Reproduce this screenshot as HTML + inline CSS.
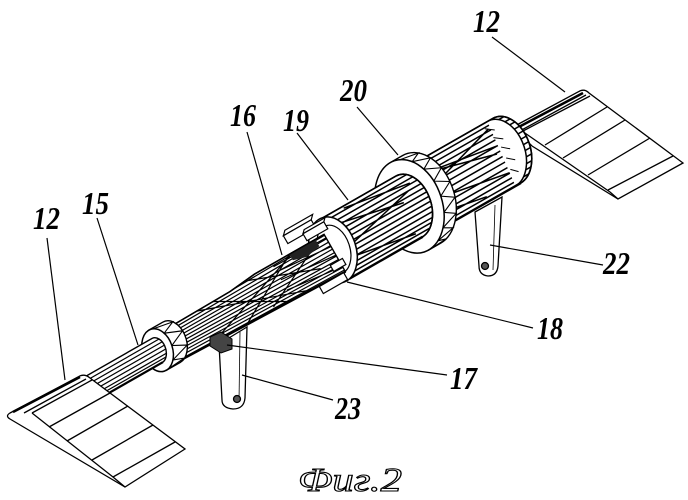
<!DOCTYPE html>
<html><head><meta charset="utf-8"><style>
html,body{margin:0;padding:0;background:#fff;}
svg{display:block;}
.t{font-family:"Liberation Serif",serif;font-style:italic;font-weight:bold;font-size:32px;fill:#000;}
</style></head><body>
<svg width="688" height="500" viewBox="0 0 688 500" xmlns="http://www.w3.org/2000/svg">
<defs>
<clipPath id="cR"><path d="M92,-35 L203.8,-35 A24,35.4 11.74 0 1 196.2,35 L92,35 Z"/></clipPath>
<clipPath id="c19"><path d="M0,-33 L91.6,-33 A22.7,33.4 11.74 0 1 84.4,33 L0,33 Z"/></clipPath>
<clipPath id="cS"><path d="M-190,-14 L-110,-15 L-80,-18 L0,-18 L0,25 L-190,20 Z"/></clipPath>
<clipPath id="cRod"><path d="M-292,-13 L-200.6,-13 A9,13.2 11.74 0 1 -203.4,13 L-292,13 Z"/></clipPath>
</defs>
<rect width="688" height="500" fill="#fff"/>

<!-- right blade -->
<g fill="none" stroke="#000" stroke-width="1.3">
<path d="M513,127 L578,92 Q584,88 589,93 L683,163 L618,199 L532,146 Z" fill="#fff"/>
<path d="M522,131 L610,192 L618,199"/>
<path d="M523,131 L590,96 M545,145 L607,107 M563,158 L625,120 M588,175 L650,138 M608,190 L673,156"/>
<path d="M515,129 L583,93" stroke-width="2.5"/>
<path d="M518,132 L586,95"/>
</g>

<!-- lever 22 -->
<g stroke="#000" stroke-width="1.3">
<path d="M475,212 L502,197 L498,266 Q497,276 488,276 Q479,275 479,266 Z" fill="#fff"/>
<line x1="495" y1="205" x2="493" y2="270" stroke-width="0.8"/>
<circle cx="485" cy="266" r="3.5" fill="#555"/>
</g>

<!-- right cylinder, ring 20, cylinder 19 -->
<g transform="translate(333 250) rotate(-29.74)" stroke="#000" fill="none">
 <path d="M92,-35 L203.8,-35 A24,35.4 11.74 0 1 196.2,35 L92,35 Z" fill="#fff" stroke-width="1.5"/>
 <g clip-path="url(#cR)" stroke-width="1.5">
  <path d="M90,-31H240 M90,-26H240 M90,-21H240 M90,-15H240 M90,-9H240 M90,-3H240 M90,3H240 M90,9H240 M90,15H240 M90,21H240 M90,26H240 M90,31H240 M100,-24L200,-8 M110,6L200,22 M120,-6L195,-28 M95,18L160,30 M130,-18L190,-2"/>
  <path d="M197.8,-35 A24,35.4 11.74 0 1 190.2,35" stroke-width="1.5" fill="#fff"/>
  <path d="M192,-30 L200,-24 M195,-18 L203,-12 M197,-6 L204,0 M196,6 L203,12 M194,18 L200,24" stroke-width="1"/>
 </g>
 <path d="M92,-35 L203.8,-35 A24,35.4 11.74 0 1 196.2,35 L92,35" stroke-width="1.6"/>
 <path d="M92,35 L196.2,35" stroke-width="2.4"/>

 <!-- ring 20 -->
 <path d="M93.1,-47.5 L107.1,-47.5 A33,48 11.74 0 1 96.9,47.5 L82.9,47.5 Z" fill="#fff" stroke-width="1.4"/>
 <polyline points="103.2,-45.1 122.3,-41.9 112.6,-37.4 130.3,-31.7 119,-25.1 134.9,-17.7 121.7,-9.8 135.5,-1.5 120.3,6.7 132.1,14.7 115,22.4 125.1,29.3 106.5,35.3 115.3,40.3 95.7,44.1 103.9,46.5 84,47.5" stroke-width="1.1"/>
 <ellipse cx="88" cy="0" rx="33" ry="48" transform="rotate(11.74 88 0)" fill="#fff" stroke-width="1.5"/>

 <!-- cylinder 19 -->
 <path d="M0,-33 L91.6,-33 A22.7,33.4 11.74 0 1 84.4,33 L0,33 Z" fill="#fff" stroke-width="1.5"/>
 <g clip-path="url(#c19)" stroke-width="1.5">
  <path d="M-5,-29H120 M-5,-24H120 M-5,-19H120 M-5,-14H120 M-5,-9H120 M-5,-4H120 M-5,1H120 M-5,6H120 M-5,11H120 M-5,16H120 M-5,21H120 M-5,25H120 M-5,29H120 M10,-22L85,-6 M20,4L95,-14 M5,14L80,27 M30,-31L100,-20"/>
 </g>
 <path d="M0,-33 L91.6,-33 A22.7,33.4 11.74 0 1 84.4,33 L0,33" stroke-width="1.6"/>
 <path d="M0,33 L84.4,33" stroke-width="2.4"/>
 <ellipse cx="0" cy="0" rx="23" ry="34" transform="rotate(11.74 0 0)" fill="#fff" stroke-width="1.5"/>
 <ellipse cx="1" cy="0" rx="16" ry="25" transform="rotate(11.74 1 0)" fill="#fff" stroke-width="1.2"/>
</g>

<!-- lever 23 -->
<g stroke="#000" stroke-width="1.3">
<path d="M219,344 L247,327 L245,398 Q244,409 233,409 Q222,408 222,400 Z" fill="#fff"/>
<line x1="240" y1="332" x2="239" y2="402" stroke-width="0.8"/>
<circle cx="237" cy="399" r="3.5" fill="#555"/>
</g>

<!-- shaft, keys, collar, rod -->
<g transform="translate(333 250) rotate(-29.74)" stroke="#000" fill="none">
 <path d="M-190,-14 L-110,-15 L-80,-18 L0,-18 L0,25 L-190,20 Z" fill="#fff" stroke-width="1.4"/>
 <g clip-path="url(#cS)" stroke-width="1.2">
  <path d="M-200,-14L0,-17 M-200,-11L0,-13 M-200,-8L0,-9 M-200,-5L0,-5 M-200,-2L0,-1 M-200,1L0,3 M-200,4L0,7 M-200,7L0,11 M-200,10L0,14 M-200,13L0,17 M-200,16L0,20 M-200,19L0,23 M-200,22L0,26 M-150,-15L-35,25 M-150,21L-35,-18 M-130,-15L-60,25 M-110,21L-40,-18 M-60,-15L0,-14 M-60,-9L0,-4 M-60,0L0,6 M-60,12L0,19 M-90,-16L-20,10 M-80,20L-15,-12"/>
  <path d="M-40,-18 L-10,-18 L-10,-10 L-26,-7 L-40,-11 Z" fill="#222" stroke="none"/>
 </g>
 <path d="M-190,-14 L-110,-15 L-80,-18 L0,-18" stroke-width="1.5"/>
 <path d="M0,25 L-190,20" stroke-width="2.4"/>
 <!-- keys -->
 <g fill="#fff" stroke-width="1.2">
  <path d="M-36,-37 L-4,-37 L0,-41 L-32,-41 Z"/>
  <rect x="-36" y="-37" width="32" height="9"/>
  <path d="M-18,-29 L6,-29 L9,-32 L-15,-32 Z"/>
  <rect x="-18" y="-29" width="24" height="8"/>
  <rect x="-30" y="25" width="28" height="8"/>
  <rect x="-10" y="12" width="14" height="7"/>
 </g>
</g>

<!-- block 17 -->
<polygon points="210,337 221,332 232,339 232,349 221,353 210,346" fill="#444" stroke="#000" stroke-width="1"/>

<g transform="translate(333 250) rotate(-29.74)" stroke="#000" fill="none">
 <!-- collar 15 -->
 <path d="M-199.65,-21.8 L-183.65,-21.8 A15,22 11.74 0 1 -188.35,21.8 L-204.35,21.8 Z" fill="#fff" stroke-width="1.4"/>
 <polyline points="-195,-20.7 -174.8,-17.1 -187.9,-11.5 -170.7,-4.5 -187.3,3.05 -173.7,10.2 -193.6,16.1 -182.5,20.1 -203.8,21.7" stroke-width="1.1"/>
 <ellipse cx="-202" cy="0" rx="15" ry="22" transform="rotate(11.74 -202 0)" fill="#fff" stroke-width="1.5"/>
 <!-- rod -->
 <path d="M-292,-13 L-200.6,-13 A9,13.2 11.74 0 1 -203.4,13 L-292,13 Z" fill="#fff" stroke-width="1.4"/>
 <g clip-path="url(#cRod)" stroke-width="1.2">
  <path d="M-300,-9H-190 M-300,-5H-190 M-300,-1H-190 M-300,3H-190 M-300,7H-190 M-300,10H-190"/>
 </g>
 <path d="M-292,13 L-203.4,13" stroke-width="2.2"/>
</g>

<!-- left blade -->
<g fill="none" stroke="#000" stroke-width="1.3">
<path d="M10,413 L78,377 Q84,373 90,378 L185,449 L125,487 L10,419 Q5,416 10,413 Z" fill="#fff"/>
<path d="M32,413 L113,477 L125,487"/>
<path d="M32,413 L92,380 M49,427 L110,393 M67,441 L128,406 M92,460 L153,425 M113,477 L175,442"/>
<path d="M13,412 L80,377" stroke-width="2.5"/>
<path d="M24,413 L86,379"/>
</g>

<!-- leaders -->
<g stroke="#000" stroke-width="1.2">
<line x1="47" y1="238" x2="65" y2="380"/>
<line x1="97" y1="218" x2="138" y2="345"/>
<line x1="247" y1="132" x2="282" y2="255"/>
<line x1="297" y1="133" x2="348" y2="200"/>
<line x1="357" y1="107" x2="398" y2="155"/>
<line x1="492" y1="37" x2="565" y2="92"/>
<line x1="603" y1="265" x2="490" y2="245"/>
<line x1="533" y1="328" x2="347" y2="282"/>
<line x1="447" y1="375" x2="227" y2="345"/>
<line x1="333" y1="400" x2="242" y2="375"/>
</g>

<!-- labels -->
<text class="t" x="33" y="229" textLength="27" lengthAdjust="spacingAndGlyphs">12</text>
<text class="t" x="82" y="214" textLength="27" lengthAdjust="spacingAndGlyphs">15</text>
<text class="t" x="230" y="126" textLength="26" lengthAdjust="spacingAndGlyphs">16</text>
<text class="t" x="283" y="131" textLength="26" lengthAdjust="spacingAndGlyphs">19</text>
<text class="t" x="340" y="101" textLength="27" lengthAdjust="spacingAndGlyphs">20</text>
<text class="t" x="473" y="32" textLength="27" lengthAdjust="spacingAndGlyphs">12</text>
<text class="t" x="603" y="274" textLength="27" lengthAdjust="spacingAndGlyphs">22</text>
<text class="t" x="537" y="339" textLength="26" lengthAdjust="spacingAndGlyphs">18</text>
<text class="t" x="450" y="389" textLength="27" lengthAdjust="spacingAndGlyphs">17</text>
<text class="t" x="335" y="419" textLength="26" lengthAdjust="spacingAndGlyphs">23</text>

<!-- caption -->
<text x="298" y="491" font-family="Liberation Serif, serif" font-style="italic" font-size="34" fill="#fff" stroke="#000" stroke-width="1.1" textLength="104" lengthAdjust="spacingAndGlyphs">Фиг.2</text>
</svg>
</body></html>
